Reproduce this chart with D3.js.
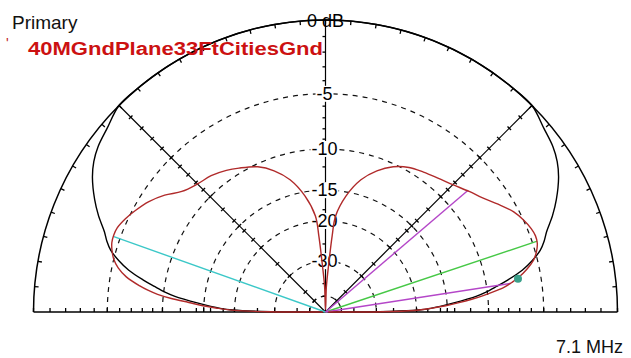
<!DOCTYPE html>
<html><head><meta charset="utf-8">
<script src="https://cdn.jsdelivr.net/npm/d3@7"></script>
<style>
html,body{margin:0;padding:0;background:#fff;}
text{font-family:"Liberation Sans",Arial,sans-serif;}
</style></head>
<body>
<svg id="chart" width="631" height="358"></svg>
<script>
// ---- data ----
const ringDb = [-5, -10, -15, -20, -30, -50];
const ringLabels = ["-5", "-10", "-15", "-20", "-30"];
const tickDb = [0, -1, -2, -3, -4, -5, -6, -7, -8, -9, -10, -12, -14, -15, -16, -18, -20, -25, -30, -40, -50];
// main pattern (red): elevation angle (deg, 0 = right horizon, 180 = left horizon) and gain (dB)
const redElev = [0, 0.3, 1, 2, 3, 4, 5, 6, 7, 8, 9, 10, 12, 14, 16, 18, 20, 22, 25, 28, 32, 36, 40, 45, 50, 55, 60, 65, 70, 75, 80, 84, 85, 86, 88, 90,
  92, 94, 95, 96, 100, 105, 110, 115, 121, 125, 130, 135, 140, 144, 148, 152, 155, 158, 160, 162, 164, 166, 168, 170, 172, 173, 174, 175, 176, 177, 178, 179, 179.7, 180];
const redDb = [-80, -28, -20.5, -17.5, -15.2, -13.4, -11.8, -10.4, -9.2, -8.2, -7.5, -6.9, -6.0, -5.3, -4.9, -4.65, -4.6, -4.7, -5.0, -5.4, -6.2, -7.0, -7.6, -8.3, -8.8, -9.2, -9.6, -10.3, -11.4, -13.0, -15.6, -19, -23, -30, -42, -80,
  -42, -30, -23, -19, -15.6, -13.0, -11.4, -10.3, -9.5, -9.0, -8.5, -8.2, -7.6, -6.6, -5.8, -5.2, -4.8, -4.5, -4.45, -4.5, -4.7, -5.0, -5.5, -6.3, -7.6, -8.4, -9.4, -10.9, -13.0, -14.7, -17.0, -20.0, -28, -80];
// comparison pattern (black)
const blkElev = [0, 0.5, 1.2, 2, 4, 6, 7, 8.5, 10, 12, 14, 16, 18, 20, 23, 26, 30, 33, 36, 40, 45,
  50, 55, 60, 65, 70, 75, 80, 85, 90, 95, 100, 105, 110, 115, 120, 125, 130, 135,
  140, 144, 147, 150, 154, 157, 160, 162, 164, 166, 168, 170, 171.5, 173, 174, 176, 178, 178.8, 179.5, 180];
const blkDb = [-80, -26, -19.7, -17.5, -14.2, -11.2, -10.2, -9.0, -7.8, -6.4, -5.4, -4.6, -4.1, -3.7, -2.9, -2.2, -1.4, -0.95, -0.65, -0.4, 0,
  0, 0, 0, 0, 0, 0, 0, 0, 0, 0, 0, 0, 0, 0, 0, 0, 0, 0,
  -0.4, -0.65, -0.95, -1.4, -2.2, -2.9, -3.7, -4.1, -4.6, -5.4, -6.4, -7.8, -9.0, -10.2, -11.2, -14.2, -17.5, -19.7, -26, -80];
// marker lines
const markerElev = [160.4, 18.5, 40.5, 8.8];
const markerDb = [-4.5, -4.6, -7.6, -7.6];
const markerColor = ["#3cc8c8", "#46c846", "#b446c8", "#b446c8"];
const dotElev = [9.8];
const dotDb = [-6.9];
const titleText = "Primary";
const patternName = "40MGndPlane33FtCitiesGnd";
const freqText = "7.1 MHz";

// ---- geometry ----
const cx = 325.5, cy = 312, R = 292;
const svg = d3.select("#chart");
// ARRL log scale: 0.89 per 2 dB -> linear in log(r)
const logR = d3.scaleLinear().domain([0, -2]).range([Math.log(R), Math.log(R * 0.89)]);
const rOf = db => Math.exp(logR(db));
// elevation -> radial-line angle (0 at top, clockwise)
const ang = d3.scaleLinear().domain([0, 180]).range([Math.PI / 2, -Math.PI / 2]);
const toXY = (el, db) => {
  const r = rOf(db), a = ang(el);
  return [cx + r * Math.sin(a), cy - r * Math.cos(a)];
};

const g = svg.append("g");

// dashed rings
ringDb.forEach(db => {
  const p = d3.path();
  const r = rOf(db);
  p.moveTo(cx - r, cy);
  p.arc(cx, cy, r, Math.PI, 2 * Math.PI);
  g.append("path").attr("d", p.toString()).attr("fill", "none")
    .attr("stroke", "#111").attr("stroke-width", 1.2).attr("stroke-dasharray", "5,5");
});

// outer circle + baseline
{
  const p = d3.path();
  p.moveTo(cx - R, cy);
  p.arc(cx, cy, R, Math.PI, 2 * Math.PI);
  g.append("path").attr("d", p.toString()).attr("fill", "none").attr("stroke", "#000").attr("stroke-width", 1.5);
  g.append("line").attr("x1", cx - R).attr("x2", cx + R).attr("y1", cy).attr("y2", cy)
    .attr("stroke", "#000").attr("stroke-width", 1.5);
}
// outer circle angle ticks every 5 deg
d3.range(5, 180, 5).forEach(el => {
  const a = ang(el);
  const r1 = R - 4, r2 = R;
  g.append("line")
    .attr("x1", cx + r1 * Math.sin(a)).attr("y1", cy - r1 * Math.cos(a))
    .attr("x2", cx + r2 * Math.sin(a)).attr("y2", cy - r2 * Math.cos(a))
    .attr("stroke", "#000").attr("stroke-width", 1.3);
});

// radial lines at 45, 90, 135
[45, 90, 135].forEach(el => {
  const [x2, y2] = toXY(el, 0);
  g.append("line").attr("x1", cx).attr("y1", cy).attr("x2", x2).attr("y2", y2)
    .attr("stroke", "#000").attr("stroke-width", 1.2);
});
// dB ticks on radial lines
[0, 45, 90, 135, 180].forEach(el => {
  const a = ang(el);
  const ux = Math.sin(a), uy = -Math.cos(a);
  const px = -uy, py = ux;
  tickDb.forEach(db => {
    const r = rOf(db);
    const x = cx + r * ux, y = cy + r * uy;
    let x1, y1, x2, y2;
    if (el === 0 || el === 180) { x1 = x; x2 = x; y1 = y; y2 = y - 4; }
    else if (el === 90) { x1 = x - 3; x2 = x; y1 = y; y2 = y; }
    else { x1 = x - 2.5 * px; y1 = y - 2.5 * py; x2 = x + 2.5 * px; y2 = y + 2.5 * py; }
    g.append("line").attr("x1", x1).attr("y1", y1).attr("x2", x2).attr("y2", y2)
      .attr("stroke", "#000").attr("stroke-width", 1.3);
  });
});

// ring labels with white background
ringLabels.forEach((lab, i) => {
  const y = cy - rOf(ringDb[i]);
  const t = g.append("text").attr("x", cx - 1).attr("y", y).attr("text-anchor", "middle")
    .attr("dominant-baseline", "central").attr("font-size", 18).attr("fill", "#000").text(lab);
  const bb = t.node().getBBox();
  g.insert("rect", () => t.node()).attr("x", bb.x - 1).attr("y", bb.y + 2).attr("width", bb.width + 2)
    .attr("height", bb.height - 4).attr("fill", "#fff");
});

// patterns
const radial = d3.lineRadial().curve(d3.curveCatmullRom.alpha(0.5));
const blkPts = blkElev.map((e, i) => [ang(e), rOf(blkDb[i])]);
g.append("path").attr("transform", `translate(${cx},${cy})`).attr("d", radial(blkPts))
  .attr("fill", "none").attr("stroke", "#000").attr("stroke-width", 1.4);

markerElev.forEach((e, i) => {
  const [x2, y2] = toXY(e, markerDb[i]);
  g.append("line").attr("x1", cx).attr("y1", cy).attr("x2", x2).attr("y2", y2)
    .attr("stroke", markerColor[i]).attr("stroke-width", 1.4);
});

const redPts = redElev.map((e, i) => [ang(e), rOf(redDb[i])]);
g.append("path").attr("transform", `translate(${cx},${cy})`).attr("d", radial(redPts))
  .attr("fill", "none").attr("stroke", "#b02a2a").attr("stroke-width", 1.4);

dotElev.forEach((e, i) => {
  const [x, y] = toXY(e, dotDb[i]);
  g.append("circle").attr("cx", x).attr("cy", y).attr("r", 4).attr("fill", "#3aa08a");
});

// texts
svg.append("text").attr("x", 12).attr("y", 29).attr("font-size", 19).attr("fill", "#111").text(titleText);
svg.append("text").attr("x", 6).attr("y", 48).attr("font-size", 14).attr("fill", "#c02020").text("'");
svg.append("text").attr("x", 28).attr("y", 55).attr("font-size", 18).attr("font-weight", "bold")
  .attr("fill", "#cc1111").attr("textLength", 295).attr("lengthAdjust", "spacingAndGlyphs").text(patternName);
svg.append("text").attr("x", cx).attr("y", 27).attr("text-anchor", "middle").attr("font-size", 18)
  .attr("fill", "#000").text("0 dB");
svg.append("text").attr("x", 623).attr("y", 353).attr("text-anchor", "end").attr("font-size", 18)
  .attr("fill", "#111").text(freqText);
</script>
</body></html>
